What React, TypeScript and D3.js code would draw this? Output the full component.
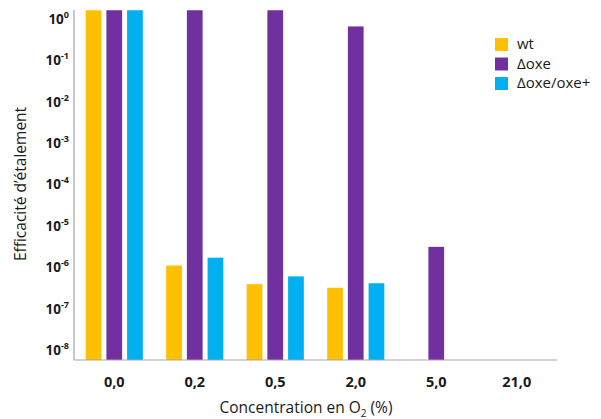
import React from 'react';
import * as d3 from 'd3';

const categories = ['0,0', '0,2', '0,5', '2,0', '5,0', '21,0'];
const seriesNames = ['wt', 'Δoxe', 'Δoxe/oxe+'];
const seriesColors = ['#FFC000', '#7030A0', '#00B0F0'];
// null = no bar
const wtValues = [1.6, 1.1e-6, 3.9e-7, 3.2e-7, null, null];
const doxeValues = [1.6, 1.6, 1.6, 0.65, 3.1e-6, null];
const doxeOxeValues = [1.6, 1.7e-6, 6.0e-7, 4.1e-7, null, null];
const tickExponents = [0, -1, -2, -3, -4, -5, -6, -7, -8];

const W = 601;
const H = 419;
const margin = { top: 10, right: 44, bottom: 59, left: 74 };
const font = "'Open Sans', 'Noto Sans', sans-serif";

function App() {
  const innerW = W - margin.left - margin.right;
  const innerH = H - margin.top - margin.bottom;

  const x = d3
    .scaleBand()
    .domain(categories)
    .range([0, innerW])
    .paddingInner(0.29)
    .paddingOuter(0.145);

  const xSub = d3
    .scaleBand()
    .domain(seriesNames)
    .range([0, x.bandwidth()])
    .paddingInner(0.24)
    .paddingOuter(0);

  const y = d3
    .scaleLog()
    .domain([Math.pow(10, -8.24), Math.pow(10, 0.21)])
    .range([innerH, 0])
    .clamp(true);

  const series = [wtValues, doxeValues, doxeOxeValues];

  return (
    <svg
      width={W}
      height={H}
      style={{ position: 'absolute', left: 0, top: 0, background: '#fff' }}
    >
      <g transform={`translate(${margin.left},${margin.top})`}>
        {series.map((vals, si) =>
          vals.map((v, ci) =>
            v == null ? null : (
              <rect
                key={`${si}-${ci}`}
                x={x(categories[ci])! + xSub(seriesNames[si])!}
                y={y(v)}
                width={xSub.bandwidth()}
                height={innerH - y(v)}
                fill={seriesColors[si]}
              />
            )
          )
        )}

        {/* axes */}
        <line x1={0} x2={0} y1={0} y2={innerH} stroke="#a6a6a6" strokeWidth={1.2} />
        <line x1={0} x2={innerW} y1={innerH} y2={innerH} stroke="#a6a6a6" strokeWidth={1.2} />

        {tickExponents.map((e) => (
          <text
            key={e}
            x={-5}
            y={y(Math.pow(10, e)) + 5}
            textAnchor="end"
            fontFamily={font}
            fontWeight="bold"
            fontSize={13.5}
            fill="#1a1a1a"
          >
            10
            <tspan dy={-6} fontSize={9}>
              {e === 0 ? '0' : `-${-e}`}
            </tspan>
          </text>
        ))}

        {categories.map((c) => (
          <text
            key={c}
            x={x(c)! + x.bandwidth() / 2}
            y={innerH + 27}
            textAnchor="middle"
            fontFamily={font}
            fontWeight="bold"
            fontSize={14.5}
            fill="#1a1a1a"
          >
            {c}
          </text>
        ))}
      </g>

      <text
        x={306}
        y={413}
        textAnchor="middle"
        fontFamily={font}
        fontSize={15.5}
        fill="#1a1a1a"
      >
        Concentration en O
        <tspan dy={4} fontSize={10}>2</tspan>
        <tspan dy={-4}> (%)</tspan>
      </text>

      <text
        transform="translate(26,184) rotate(-90)"
        textAnchor="middle"
        fontFamily={font}
        fontSize={15.5}
        fill="#1a1a1a"
      >
        Efficacité d’étalement
      </text>

      {seriesNames.map((name, i) => (
        <g key={name} transform={`translate(495,${38 + i * 19.5})`}>
          <rect width={13} height={13} fill={seriesColors[i]} />
          <text x={22} y={11} fontFamily={font} fontSize={15} fill="#1a1a1a">
            {name}
          </text>
        </g>
      ))}
    </svg>
  );
}

export default App;
